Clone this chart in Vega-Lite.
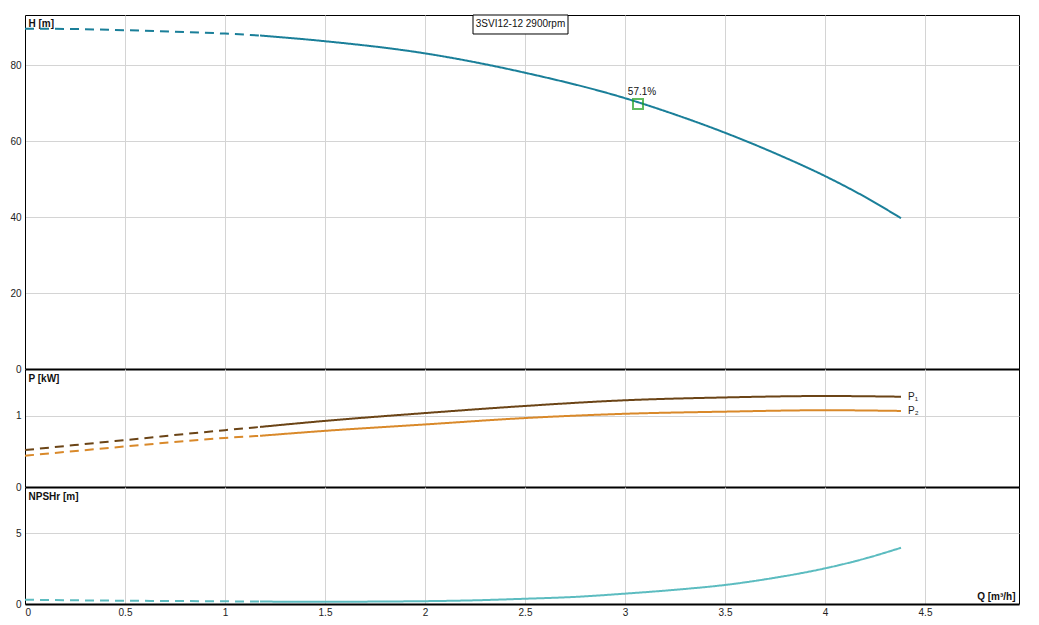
{
  "$schema": "https://vega.github.io/schema/vega-lite/v6.json",
  "padding": {"left": 0, "top": 14, "right": 20, "bottom": 0},
  "background": "white",
  "spacing": 0,
  "bounds": "flush",
  "config": {
    "font": "Liberation Sans",
    "view": {"stroke": "black", "strokeWidth": 1},
    "concat": {"spacing": 0},
    "axis": {
      "labelFont": "Liberation Sans",
      "labelFontSize": 10,
      "labelColor": "#222",
      "gridColor": "#d4d4d4",
      "gridWidth": 1,
      "ticks": false,
      "domainColor": "black",
      "titleFont": "Liberation Sans",
      "titleFontSize": 10,
      "titleFontWeight": "bold",
      "titleColor": "#111"
    }
  },
  "vconcat": [
    {
      "width": 994,
      "height": 354,
      "layer": [
        {
          "data": {"values": [
            {"q": 0, "v": 89.6, "seg": "d"}, {"q": 0.25, "v": 89.5, "seg": "d"}, {"q": 0.5, "v": 89.2, "seg": "d"},
            {"q": 0.75, "v": 88.8, "seg": "d"}, {"q": 1.0, "v": 88.3, "seg": "d"}, {"q": 1.175, "v": 87.8, "seg": "d"},
            {"q": 1.175, "v": 87.8, "seg": "s"}, {"q": 1.5, "v": 86.3, "seg": "s"}, {"q": 2.0, "v": 83.1, "seg": "s"},
            {"q": 2.5, "v": 78.0, "seg": "s"}, {"q": 3.0, "v": 71.3, "seg": "s"}, {"q": 3.25, "v": 67.0, "seg": "s"},
            {"q": 3.5, "v": 62.2, "seg": "s"}, {"q": 3.75, "v": 56.8, "seg": "s"}, {"q": 4.0, "v": 50.8, "seg": "s"},
            {"q": 4.2, "v": 45.3, "seg": "s"}, {"q": 4.38, "v": 39.7, "seg": "s"}
          ]},
          "mark": {"type": "line", "color": "#1a7f99", "strokeWidth": 2, "interpolate": "monotone"},
          "encoding": {
            "x": {"field": "q", "type": "quantitative",
                  "scale": {"domain": [0, 4.97], "nice": false, "zero": false},
                  "axis": {"values": [0, 0.5, 1, 1.5, 2, 2.5, 3, 3.5, 4, 4.5], "labels": false, "title": null,
                           "domainWidth": 2, "grid": true, "minExtent": 0, "maxExtent": 0}},
            "y": {"field": "v", "type": "quantitative",
                  "scale": {"domain": [0, 93.2], "nice": false},
                  "axis": {"values": [0, 20, 40, 60, 80], "format": "d", "grid": true, "title": "H [m]", "titleAngle": 0,
                           "titleX": 3, "titleY": 3, "titleAlign": "left", "titleBaseline": "top",
                           "labelPadding": 4, "minExtent": 24, "maxExtent": 24}},
            "strokeDash": {"field": "seg", "type": "nominal",
                           "scale": {"domain": ["d", "s"], "range": [[9, 6], [1, 0]]}, "legend": null}
          }
        },
        {
          "data": {"values": [{"q": 2.24, "q2": 2.715, "v": 93.2, "v2": 88.2}]},
          "mark": {"type": "rect", "fill": "white", "stroke": "black", "strokeWidth": 1},
          "encoding": {
            "x": {"field": "q", "type": "quantitative"},
            "x2": {"field": "q2"},
            "y": {"field": "v", "type": "quantitative"},
            "y2": {"field": "v2"}
          }
        },
        {
          "data": {"values": [{"q": 2.4775, "v": 90.7, "label": "3SVI12-12 2900rpm"}]},
          "mark": {"type": "text", "fontSize": 10, "color": "#111", "align": "center", "baseline": "middle"},
          "encoding": {
            "x": {"field": "q", "type": "quantitative"},
            "y": {"field": "v", "type": "quantitative"},
            "text": {"field": "label"}
          }
        },
        {
          "data": {"values": [{"q": 3.065, "v": 69.8, "label": "57.1%"}]},
          "layer": [
            {"mark": {"type": "square", "filled": false, "stroke": "#1ea01e", "strokeWidth": 2, "size": 100},
             "encoding": {"x": {"field": "q", "type": "quantitative"}, "y": {"field": "v", "type": "quantitative"}}},
            {"mark": {"type": "text", "fontSize": 10, "color": "#111", "dy": -12, "dx": 4, "align": "center"},
             "encoding": {"x": {"field": "q", "type": "quantitative"}, "y": {"field": "v", "type": "quantitative"},
                          "text": {"field": "label"}}}
          ]
        }
      ]
    },
    {
      "width": 994,
      "height": 118,
      "layer": [
        {
          "data": {"values": [
            {"q": 0, "v": 0.52, "c": "P1", "seg": "d"}, {"q": 0.5, "v": 0.66, "c": "P1", "seg": "d"},
            {"q": 1.0, "v": 0.80, "c": "P1", "seg": "d"}, {"q": 1.175, "v": 0.845, "c": "P1", "seg": "d"},
            {"q": 1.175, "v": 0.845, "c": "P1", "seg": "s"}, {"q": 1.5, "v": 0.93, "c": "P1", "seg": "s"},
            {"q": 2.0, "v": 1.04, "c": "P1", "seg": "s"}, {"q": 2.5, "v": 1.14, "c": "P1", "seg": "s"},
            {"q": 3.0, "v": 1.22, "c": "P1", "seg": "s"}, {"q": 3.5, "v": 1.26, "c": "P1", "seg": "s"},
            {"q": 4.0, "v": 1.28, "c": "P1", "seg": "s"}, {"q": 4.38, "v": 1.27, "c": "P1", "seg": "s"},
            {"q": 0, "v": 0.44, "c": "P2", "seg": "d"}, {"q": 0.5, "v": 0.57, "c": "P2", "seg": "d"},
            {"q": 1.0, "v": 0.69, "c": "P2", "seg": "d"}, {"q": 1.175, "v": 0.72, "c": "P2", "seg": "d"},
            {"q": 1.175, "v": 0.72, "c": "P2", "seg": "s"}, {"q": 1.5, "v": 0.79, "c": "P2", "seg": "s"},
            {"q": 2.0, "v": 0.88, "c": "P2", "seg": "s"}, {"q": 2.5, "v": 0.97, "c": "P2", "seg": "s"},
            {"q": 3.0, "v": 1.03, "c": "P2", "seg": "s"}, {"q": 3.5, "v": 1.06, "c": "P2", "seg": "s"},
            {"q": 4.0, "v": 1.08, "c": "P2", "seg": "s"}, {"q": 4.38, "v": 1.07, "c": "P2", "seg": "s"}
          ]},
          "mark": {"type": "line", "strokeWidth": 2, "interpolate": "monotone"},
          "encoding": {
            "x": {"field": "q", "type": "quantitative",
                  "scale": {"domain": [0, 4.97], "nice": false, "zero": false},
                  "axis": {"values": [0, 0.5, 1, 1.5, 2, 2.5, 3, 3.5, 4, 4.5], "labels": false, "title": null,
                           "domainWidth": 2, "grid": true, "minExtent": 0, "maxExtent": 0}},
            "y": {"field": "v", "type": "quantitative",
                  "scale": {"domain": [0, 1.66], "nice": false},
                  "axis": {"values": [0, 1], "format": "d", "grid": true, "title": "P [kW]", "titleAngle": 0,
                           "titleX": 3, "titleY": 4, "titleAlign": "left", "titleBaseline": "top",
                           "labelPadding": 4, "minExtent": 24, "maxExtent": 24}},
            "color": {"field": "c", "type": "nominal",
                      "scale": {"domain": ["P1", "P2"], "range": ["#6b4416", "#d9892a"]}, "legend": null},
            "strokeDash": {"field": "seg", "type": "nominal",
                           "scale": {"domain": ["d", "s"], "range": [[9, 6], [1, 0]]}, "legend": null}
          }
        },
        {
          "data": {"values": [{"q": 4.38, "v": 1.265, "label": "P₁"}, {"q": 4.38, "v": 1.065, "label": "P₂"}]},
          "mark": {"type": "text", "fontSize": 10, "color": "#222", "align": "left", "baseline": "middle", "dx": 7},
          "encoding": {
            "x": {"field": "q", "type": "quantitative"},
            "y": {"field": "v", "type": "quantitative"},
            "text": {"field": "label"}
          }
        }
      ]
    },
    {
      "width": 994,
      "height": 117,
      "data": {"values": [
        {"q": 0, "v": 0.30, "seg": "d"}, {"q": 0.5, "v": 0.23, "seg": "d"}, {"q": 1.0, "v": 0.19, "seg": "d"},
        {"q": 1.175, "v": 0.17, "seg": "d"},
        {"q": 1.175, "v": 0.17, "seg": "s"}, {"q": 1.5, "v": 0.16, "seg": "s"}, {"q": 2.0, "v": 0.20, "seg": "s"},
        {"q": 2.25, "v": 0.26, "seg": "s"}, {"q": 2.5, "v": 0.37, "seg": "s"}, {"q": 2.75, "v": 0.50, "seg": "s"},
        {"q": 3.0, "v": 0.73, "seg": "s"}, {"q": 3.25, "v": 1.0, "seg": "s"}, {"q": 3.5, "v": 1.34, "seg": "s"},
        {"q": 3.75, "v": 1.85, "seg": "s"}, {"q": 4.0, "v": 2.51, "seg": "s"}, {"q": 4.2, "v": 3.2, "seg": "s"},
        {"q": 4.38, "v": 3.96, "seg": "s"}
      ]},
      "mark": {"type": "line", "color": "#5cbcc0", "strokeWidth": 2, "interpolate": "monotone"},
      "encoding": {
        "x": {"field": "q", "type": "quantitative",
              "scale": {"domain": [0, 4.97], "nice": false, "zero": false},
              "axis": {"values": [0, 0.5, 1, 1.5, 2, 2.5, 3, 3.5, 4, 4.5], "format": ".1~f", "grid": true,
                       "domainWidth": 2, "labelPadding": 3,
                       "title": "Q [m³/h]", "titleX": 990, "titleY": -3, "titleAlign": "right", "titleBaseline": "bottom"}},
        "y": {"field": "v", "type": "quantitative",
              "scale": {"domain": [0, 8.24], "nice": false},
              "axis": {"values": [0, 5], "format": "d", "grid": true, "title": "NPSHr [m]", "titleAngle": 0,
                       "titleX": 3, "titleY": 4, "titleAlign": "left", "titleBaseline": "top",
                       "labelPadding": 4, "minExtent": 24, "maxExtent": 24}},
        "strokeDash": {"field": "seg", "type": "nominal",
                       "scale": {"domain": ["d", "s"], "range": [[9, 6], [1, 0]]}, "legend": null}
      }
    }
  ]
}
